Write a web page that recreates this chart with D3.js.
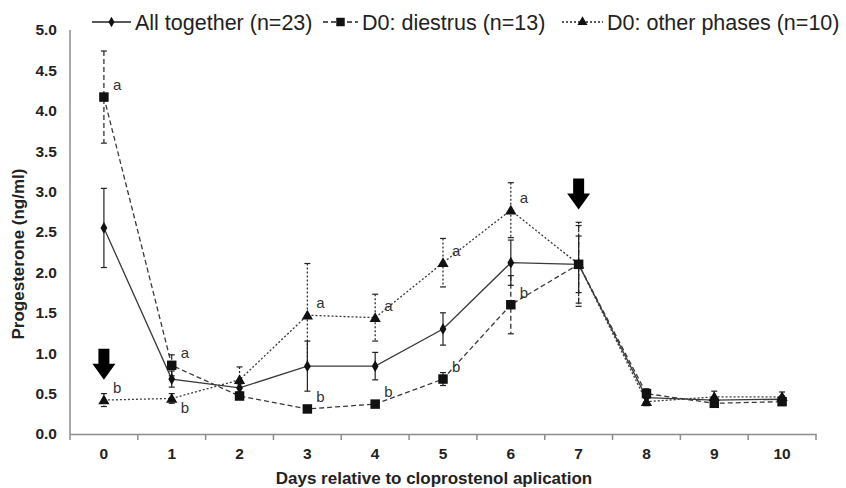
<!DOCTYPE html>
<html lang="en">
<head>
    <meta charset="UTF-8">
    <title>Progesterone</title>
    <script src="https://cdn.jsdelivr.net/npm/d3@7"></script>
    <style>
        body { margin: 0; background: #fff; }
        svg { font-family: 'Liberation Sans', Arial, sans-serif; }
        .tick-label { font-weight: bold; font-size: 15.5px; fill: #222; }
        .axis-title { font-weight: bold; font-size: 17px; fill: #222; }
        .legend-text { font-size: 21.5px; fill: #222; }
        .letter { font-size: 15px; fill: #333; }
    </style>
</head>
<body>
<svg id="chart" width="846" height="488"></svg>
<script>
// data
var days = [0, 1, 2, 3, 4, 5, 6, 7, 8, 9, 10];
var yTicks = [0, 0.5, 1, 1.5, 2, 2.5, 3, 3.5, 4, 4.5, 5];

var allTogether    = [2.55, 0.68, 0.57, 0.84, 0.84, 1.30, 2.12, 2.10, 0.45, 0.42, 0.43];
var allTogetherErr = [0.49, 0.10, 0.05, 0.31, 0.17, 0.20, 0.28, 0.35, 0.05, 0.04, 0.04];
var diestrus       = [4.17, 0.85, 0.47, 0.31, 0.37, 0.68, 1.60, 2.10, 0.50, 0.38, 0.40];
var diestrusErr    = [0.57, 0.13, 0.04, 0.03, 0.03, 0.08, 0.36, 0.48, 0.06, 0.04, 0.04];
var otherPhases    = [0.42, 0.44, 0.67, 1.47, 1.44, 2.12, 2.77, 2.10, 0.40, 0.46, 0.46];
var otherPhasesErr = [0.08, 0.06, 0.16, 0.64, 0.29, 0.30, 0.34, 0.52, 0.05, 0.07, 0.06];

var seriesNames = ['All together (n=23)', 'D0: diestrus (n=13)', 'D0: other phases (n=10)'];

// significance letters: series index, day, letter
var letterSeries = [1, 2, 1, 2, 2, 1, 2, 1, 2, 1, 2, 1];
var letterDays   = [0, 0, 1, 1, 3, 3, 4, 4, 5, 5, 6, 6];
var letterText   = ['a', 'b', 'a', 'b', 'a', 'b', 'a', 'b', 'a', 'b', 'a', 'b'];

// arrows (day, value at arrow tip)
var arrowDays = [0, 7];
var arrowTips = [0.67, 2.78];

var svg = d3.select('#chart');
var mLeft = 70, mRight = 816, mTop = 30, mBottom = 434;

var x = d3.scaleBand().domain(days).range([mLeft, mRight]);
var cx = d => x(d) + x.bandwidth() / 2;
var y = d3.scaleLinear().domain([0, 5]).range([mBottom, mTop]);

var styles = [
    { dash: null,  marker: d3.symbolDiamond, size: 40 },
    { dash: '5,3', marker: d3.symbolSquare,  size: 90 },
    { dash: '2,2', marker: d3.symbolTriangle, size: 55 }
];
var series = [
    { vals: allTogether, err: allTogetherErr },
    { vals: diestrus, err: diestrusErr },
    { vals: otherPhases, err: otherPhasesErr }
];

// axes
var axisColor = '#8c8c8c';
svg.append('line').attr('x1', mLeft).attr('x2', mLeft).attr('y1', mTop).attr('y2', mBottom)
    .attr('stroke', axisColor).attr('stroke-width', 1.5);

var xAxis = d3.axisBottom(x).tickSize(0).tickFormat(d => d);
var gx = svg.append('g').attr('transform', 'translate(0,' + mBottom + ')').call(xAxis);
gx.select('.domain').attr('stroke', axisColor).attr('stroke-width', 1.5);
gx.selectAll('text').attr('class', 'tick-label').attr('dy', '1.3em').attr('y', 5);

// tick marks on category borders
var borders = days.map(d => x(d)).concat([mRight]);
svg.selectAll('.xborder').data(borders).enter().append('line')
    .attr('x1', d => d).attr('x2', d => d).attr('y1', mBottom).attr('y2', mBottom + 6)
    .attr('stroke', axisColor).attr('stroke-width', 1.5);

var yAxis = d3.axisLeft(y).tickValues(yTicks).tickSize(0).tickFormat(d3.format('.1f'));
var gy = svg.append('g').attr('transform', 'translate(' + (mLeft - 13) + ',0)').call(yAxis);
gy.select('.domain').remove();
gy.selectAll('text').attr('class', 'tick-label').attr('x', 0);

svg.append('text').attr('class', 'axis-title')
    .attr('x', 434).attr('y', 484).attr('text-anchor', 'middle')
    .text('Days relative to cloprostenol aplication');

svg.append('text').attr('class', 'axis-title')
    .attr('transform', 'translate(24,254) rotate(-90)')
    .attr('text-anchor', 'middle')
    .text('Progesterone (ng/ml)');

// lines, error bars, markers
var line = d3.line().x((d, i) => cx(days[i])).y(d => y(d));

series.forEach(function (s, k) {
    var st = styles[k];
    var g = svg.append('g');
    g.append('path').datum(s.vals).attr('d', line)
        .attr('fill', 'none').attr('stroke', '#3a3a3a').attr('stroke-width', 1.3)
        .attr('stroke-dasharray', st.dash);

    var eb = g.selectAll('.eb').data(days).enter().append('g');
    eb.append('line')
        .attr('x1', d => cx(d)).attr('x2', d => cx(d))
        .attr('y1', (d, i) => y(s.vals[i] + s.err[i]))
        .attr('y2', (d, i) => y(s.vals[i] - s.err[i]))
        .attr('stroke', '#222').attr('stroke-width', 1.2)
        .attr('stroke-dasharray', st.dash);
    [1, -1].forEach(function (sign) {
        eb.append('line')
            .attr('x1', d => cx(d) - 3).attr('x2', d => cx(d) + 3)
            .attr('y1', (d, i) => y(s.vals[i] + sign * s.err[i]))
            .attr('y2', (d, i) => y(s.vals[i] + sign * s.err[i]))
            .attr('stroke', '#222').attr('stroke-width', 1.2);
    });
});

series.forEach(function (s, k) {
    var st = styles[k];
    svg.append('g').selectAll('path').data(s.vals).enter().append('path')
        .attr('d', d3.symbol().type(st.marker).size(st.size))
        .attr('transform', (d, i) => 'translate(' + cx(days[i]) + ',' + (y(d) + (k === 2 ? 1 : 0)) + ')')
        .attr('fill', '#111');
});

// significance letters
svg.selectAll('.letter').data(letterText).enter().append('text')
    .attr('class', 'letter')
    .attr('x', (d, i) => cx(letterDays[i]) + 9)
    .attr('y', function (d, i) {
        var v = series[letterSeries[i]].vals[letterDays[i]];
        var below = (letterDays[i] === 1 && letterSeries[i] === 2);
        return y(v) + (below ? 15 : -7);
    })
    .text(d => d);

// block arrows
svg.selectAll('.arrow').data(arrowDays).enter().append('path')
    .attr('d', function (d, i) {
        var ax = cx(d), tip = y(arrowTips[i]);
        var h = 31, head = 16, sw = 5.5, hw = 11.5;
        var t = tip - h;
        return 'M' + (ax - sw) + ',' + t + 'L' + (ax + sw) + ',' + t +
            'L' + (ax + sw) + ',' + (tip - head) + 'L' + (ax + hw) + ',' + (tip - head) +
            'L' + ax + ',' + tip + 'L' + (ax - hw) + ',' + (tip - head) +
            'L' + (ax - sw) + ',' + (tip - head) + 'Z';
    })
    .attr('fill', '#000');

// legend
var legendX = [92, 323, 562];
var legendW = [39, 35, 41];
var lg = svg.append('g');
seriesNames.forEach(function (name, k) {
    var st = styles[k];
    var lx = legendX[k], ly = 22;
    lg.append('line').attr('x1', lx).attr('x2', lx + legendW[k]).attr('y1', ly).attr('y2', ly)
        .attr('stroke', '#222').attr('stroke-width', 1.3).attr('stroke-dasharray', st.dash);
    lg.append('path').attr('d', d3.symbol().type(st.marker).size(st.size * 0.8))
        .attr('transform', 'translate(' + (lx + legendW[k] / 2) + ',' + ly + ')').attr('fill', '#111');
    lg.append('text').attr('class', 'legend-text').attr('x', lx + legendW[k] + 4).attr('y', ly + 7.5).text(name);
});
</script>
</body>
</html>
